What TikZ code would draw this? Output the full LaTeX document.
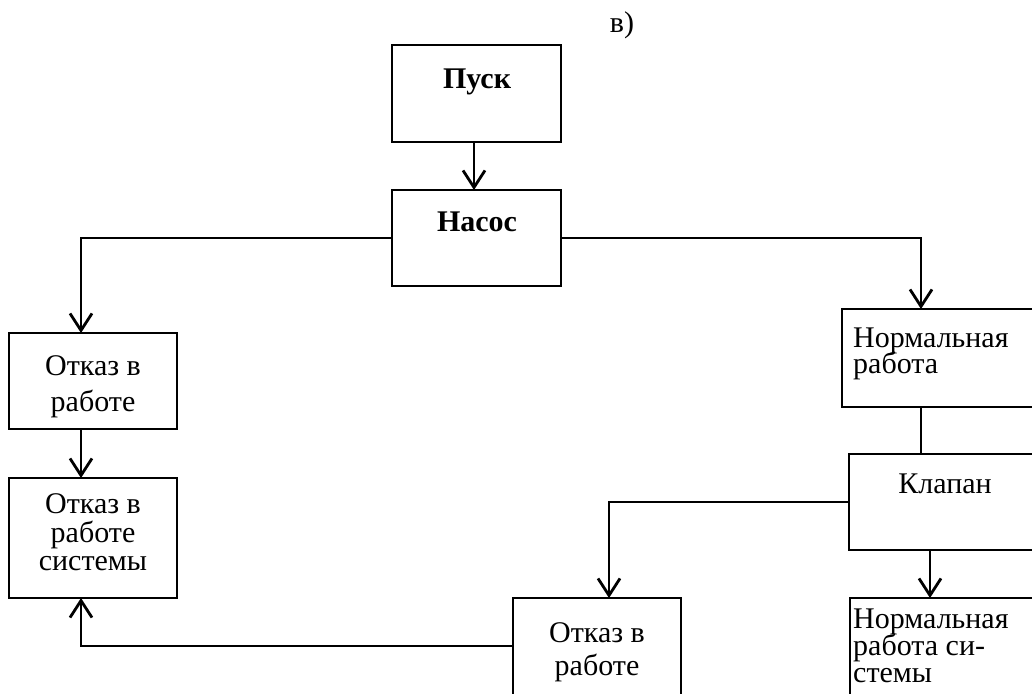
\documentclass[tikz,border=0pt]{standalone}
\usepackage{fontspec}
\setmainfont{Liberation Serif}
\usetikzlibrary{arrows.meta}
\begin{document}
\begin{tikzpicture}[x=1pt,y=-1pt,
  box/.style={draw, line width=2.9pt, rectangle, inner sep=0pt, outer sep=0pt, anchor=north west},
  txt/.style={inner sep=0pt, anchor=base, font=\fontsize{30}{30}\selectfont},
  ltxt/.style={txt, anchor=base west},
  conn/.style={line width=2.8pt},
  arr/.style={conn, -{Straight Barb[length=17pt,width=22pt,line width=2.8pt]}}]
\useasboundingbox (0,0) rectangle (1032,693);
\clip (0,0) rectangle (1032,693);

% boxes
\node[box, minimum width=169pt, minimum height=97pt] (pusk)   at (392,45)  {};
\node[box, minimum width=169pt, minimum height=96pt] (nasos)  at (392,190) {};
\node[box, minimum width=168pt, minimum height=96pt] (otk1)   at (9,333)   {};
\node[box, minimum width=168pt, minimum height=120pt] (otksys) at (9,478)  {};
\node[box, minimum width=203pt, minimum height=98pt] (norm)   at (842,309) {};
\node[box, minimum width=196pt, minimum height=96pt] (klapan) at (849,454) {};
\node[box, minimum width=196pt, minimum height=110pt] (nsys)  at (850,598) {};
\node[box, minimum width=168pt, minimum height=110pt] (otk2)  at (513,598) {};

% texts
\node[txt] (lbl) at (622,33) {в)};
\node[txt] (tpusk) at (477,88) {\bfseries Пуск};
\node[txt] (tnasos) at (477,231) {\bfseries Насос};
\node[txt] (to1a) at (93,375) {Отказ в};
\node[txt] (to1b) at (93,411) {работе};
\node[txt] (tosa) at (93,513) {Отказ в};
\node[txt] (tosb) at (93,542) {работе};
\node[txt] (tosc) at (93,570) {системы};
\node[ltxt] (tna) at (853,347) {Нормальная};
\node[ltxt] (tnb) at (853,373) {работа};
\node[txt] (tkl) at (945,493) {Клапан};
\node[ltxt] (tnsa) at (853,628) {Нормальная};
\node[ltxt] (tnsb) at (853,655) {работа си-};
\node[ltxt] (tnsc) at (853,682) {стемы};
\node[txt] (to2a) at (597,642) {Отказ в};
\node[txt] (to2b) at (597,675) {работе};

% connectors
\draw[arr] (pusk.south -| 474,0) -- (nasos.north -| 474,0);
\draw[arr] (nasos.west) -| (otk1.north -| 81,0);
\draw[arr] (nasos.east) -| (norm.north -| 921,0);
\draw[arr] (otk1.south -| 81,0) -- (otksys.north -| 81,0);
\draw[conn] (norm.south -| 921,0) -- (klapan.north -| 921,0);
\draw[arr] (klapan.west) -| (otk2.north -| 609,0);
\draw[arr] (klapan.south -| 930,0) -- (nsys.north -| 930,0);
\draw[arr] (otk2.west |- 0,646) -| (otksys.south -| 81,0);
\end{tikzpicture}
\end{document}
